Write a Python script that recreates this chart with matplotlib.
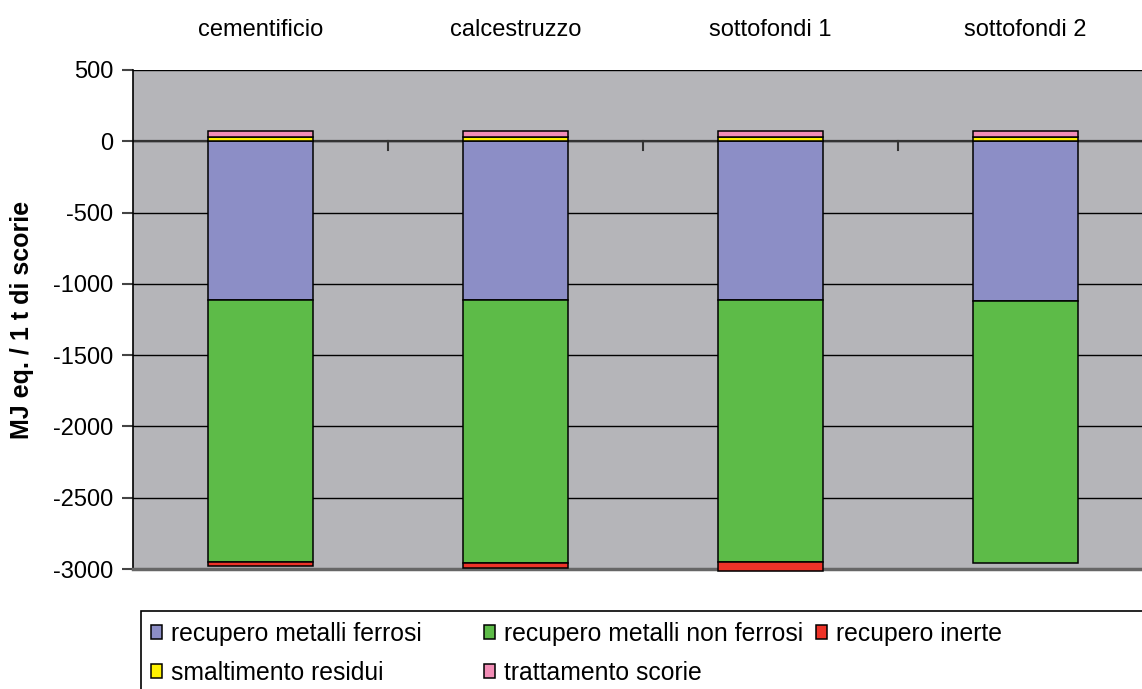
import matplotlib.pyplot as plt
import numpy as np
from matplotlib.patches import Rectangle
from matplotlib.transforms import blended_transform_factory

plt.rcParams['font.family'] = ['Liberation Sans', 'DejaVu Sans']
plt.rcParams['axes.unicode_minus'] = False

# Energy balance per scenario (MJ eq. / 1 t di scorie)
scenari = ['cementificio', 'calcestruzzo', 'sottofondi 1', 'sottofondi 2']
ferrosi = [-1115, -1115, -1115, -1118]
non_ferrosi = [-1838, -1840, -1838, -1842]
inerte = [-25, -40, -60, 0]
smaltimento = [30, 30, 30, 30]
trattamento = [40, 40, 40, 42]

voci = ['recupero metalli ferrosi', 'recupero metalli non ferrosi', 'recupero inerte',
        'smaltimento residui', 'trattamento scorie']
colori = ['#8C8EC6', '#5DBB48', '#EE3328', '#FFF200', '#F28DB6']

W, H = 1142, 689
fig = plt.figure(figsize=(W / 100, H / 100), dpi=100)
ax = fig.add_axes([133 / W, 120 / H, 1020 / W, 499 / H])
ax.set_facecolor('#B5B5B9')

x = np.arange(len(scenari))
w = 0.41
kw = dict(width=w, edgecolor='black', linewidth=1.1, zorder=3, clip_on=False)

# negative contributions stacked downwards from zero
base = np.zeros(len(scenari))
for serie, col in [(ferrosi, colori[0]), (non_ferrosi, colori[1]), (inerte, colori[2])]:
    v = np.array(serie)
    m = v != 0
    ax.bar(x[m], v[m], bottom=base[m], color=col, **kw)
    base = base + v

# positive contributions stacked upwards
base = np.zeros(len(scenari))
for serie, col in [(smaltimento, colori[3]), (trattamento, colori[4])]:
    v = np.array(serie)
    ax.bar(x, v, bottom=base, color=col, **kw)
    base = base + v

ax.set_xlim(-0.5, len(scenari) - 0.5)
ax.set_ylim(-3000, 500)
ax.set_yticks(np.arange(-3000, 501, 500))
for y in np.arange(-2500, 501, 500):
    ax.axhline(y, color='black', linewidth=1.0, zorder=1)
ax.axhline(0, color='#333333', linewidth=1.6, zorder=2)

# category boundary ticks on the zero line
for b in x[:-1] + 0.5:
    ax.plot([b, b], [0, -60], color='#333333', linewidth=1.5, zorder=2)

ax.set_xticks([])
ax.tick_params(axis='y', direction='out', length=8, width=1.5, color='#444444',
               labelsize=17, pad=6)
for side in ['top', 'right']:
    ax.spines[side].set_visible(False)
ax.spines['left'].set_color('black')
ax.spines['left'].set_linewidth(1.2)
ax.spines['bottom'].set_color('#666666')
ax.spines['bottom'].set_linewidth(2.5)

trans = blended_transform_factory(ax.transData, fig.transFigure)
for xi, nome in zip(x, scenari):
    ax.text(xi, 1 - 30 / H, nome, transform=trans, ha='center', va='center',
            fontsize=17)

fig.text(22 / W, 1 - 320 / H, 'MJ eq. / 1 t di scorie', rotation=90,
         fontsize=18, fontweight='bold', ha='center', va='center')

# legend box, running off the right and bottom edges
fig.add_artist(Rectangle((141 / W, -0.02), 1.1, 1 - 611 / H + 0.02,
                         transform=fig.transFigure, facecolor='white',
                         edgecolor='black', linewidth=1.2))
col_x = [151, 484, 816]
row_y = [632, 671]
for i, (voce, col) in enumerate(zip(voci, colori)):
    r, c = divmod(i, 3)
    px, py = col_x[c], row_y[r]
    fig.add_artist(Rectangle((px / W, 1 - (py + 7) / H), 11 / W, 14 / H,
                             transform=fig.transFigure, facecolor=col,
                             edgecolor='black', linewidth=1.1))
    fig.text((px + 20) / W, 1 - py / H, voce, fontsize=17.8, ha='left',
             va='center_baseline')

fig.savefig('out.png', dpi=100)
